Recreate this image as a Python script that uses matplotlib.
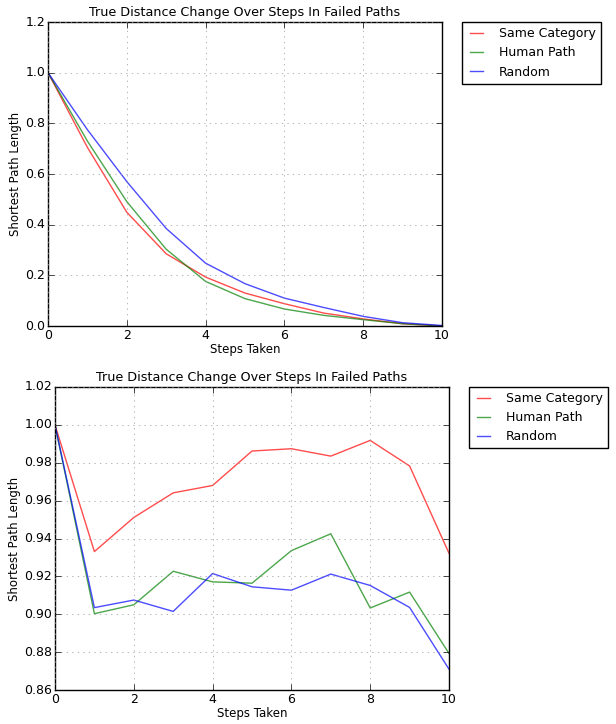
import matplotlib
matplotlib.use('Agg')
import matplotlib.pyplot as plt

plt.style.use('classic')
plt.rcParams['figure.facecolor'] = 'white'
plt.rcParams['savefig.facecolor'] = 'white'

steps = list(range(11))
labels = ['Same Category', 'Human Path', 'Random']

# top chart: averaged true distance (normalised)
top_same = [1.0, 0.705, 0.449, 0.285, 0.193, 0.130, 0.088, 0.051, 0.028, 0.009, 0.0]
top_human = [1.0, 0.730, 0.491, 0.303, 0.176, 0.108, 0.067, 0.042, 0.025, 0.009, 0.0]
top_random = [1.0, 0.775, 0.570, 0.385, 0.248, 0.167, 0.110, 0.073, 0.038, 0.013, 0.002]

# bottom chart
bot_same = [1.0, 0.9331, 0.9511, 0.9641, 0.9680, 0.9862, 0.9874, 0.9835, 0.9918, 0.9783, 0.9322]
bot_human = [1.0, 0.9003, 0.9050, 0.9227, 0.9171, 0.9164, 0.9336, 0.9425, 0.9033, 0.9117, 0.8793]
bot_random = [1.0, 0.9035, 0.9075, 0.9015, 0.9215, 0.9145, 0.9127, 0.9212, 0.9152, 0.9036, 0.8710]

colors = ['r', 'g', 'b']


def draw(ax, series, ylim, yticks, fmt):
	for ys, c, lab in zip(series, colors, labels):
		ax.plot(steps, ys, color=c, alpha=0.7, linewidth=1.0, label=lab)
	ax.set_xlim(0, 10)
	ax.set_ylim(*ylim)
	ax.set_yticks(yticks)
	ax.set_yticklabels([fmt % t for t in yticks])
	ax.grid(True, color='#999999', linestyle=':')
	ax.tick_params(labelsize=9, pad=2)
	ax.set_title('True Distance Change Over Steps In Failed Paths', fontsize=9.2, pad=4)
	ax.set_xlabel('Steps Taken', fontsize=8.5, labelpad=1)
	ax.set_ylabel('Shortest Path Length', fontsize=8.5, labelpad=2)
	leg = ax.legend(bbox_to_anchor=(1.05, 1), loc=2, borderaxespad=0., fontsize=9,
		handlelength=1.6, handletextpad=1.0)
	leg.get_frame().set_linewidth(1.0)


fig = plt.figure(figsize=(6.16, 7.24), dpi=100)

ax1 = fig.add_axes([48/616, 1-326/724, 394/616, 304/724])
draw(ax1, [top_same, top_human, top_random], (0, 1.2),
	[0.0, 0.2, 0.4, 0.6, 0.8, 1.0, 1.2], '%.1f')

ax2 = fig.add_axes([55/616, 1-690/724, 394/616, 303/724])
draw(ax2, [bot_same, bot_human, bot_random], (0.86, 1.02),
	[0.86, 0.88, 0.90, 0.92, 0.94, 0.96, 0.98, 1.00, 1.02], '%.2f')

fig.savefig('out.png', dpi=100)
